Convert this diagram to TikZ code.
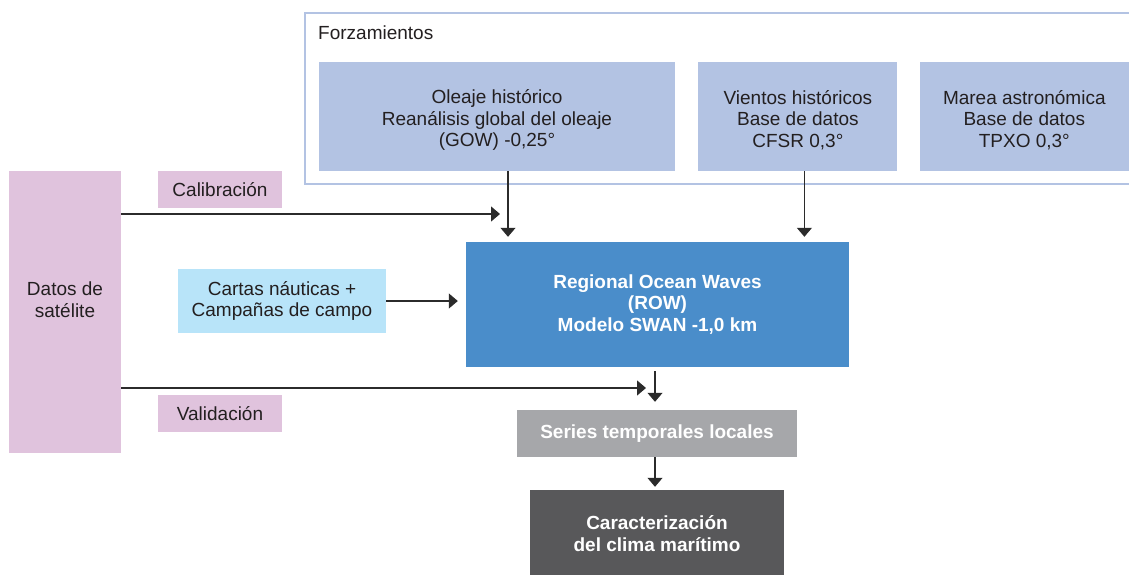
\documentclass[tikz,border=0pt]{standalone}
\usepackage{fontspec}
\setmainfont{Liberation Sans}
\usetikzlibrary{arrows.meta,positioning,calc}

\definecolor{textdark}{HTML}{231F20}
\definecolor{arrowgray}{HTML}{2B2B2B}
\definecolor{forzblue}{HTML}{B3C3E3}
\definecolor{satpink}{HTML}{E0C3DD}
\definecolor{cartasblue}{HTML}{B8E4F9}
\definecolor{rowblue}{HTML}{4A8DCA}
\definecolor{seriesgray}{HTML}{A6A7AA}
\definecolor{caractgray}{HTML}{58585A}

\newcommand{\topgap}{\rule{0pt}{21pt}}

\begin{document}
\begin{tikzpicture}[
    x=1pt, y=-1pt,
    %---- global look ----
    font=\fontsize{19}{21.5}\selectfont,
    >={Triangle[length=9pt,width=15pt]},
    block/.style = {rectangle, inner sep=0pt, align=center, text=textdark},
    forcing/.style = {block, fill=forzblue, minimum height=109pt},
    satbox/.style = {block, fill=satpink},
    whitebox/.style = {block, text=white, font=\fontsize{19}{21.5}\selectfont\bfseries},
    arrow/.style = {->, line width=1.2pt, draw=arrowgray},
]
\useasboundingbox (0,0) rectangle (1129,575);

%---- forcing frame (open to the right) ----
\draw[forzblue, line width=2.2pt] (1140,13) -- (305,13) -- (305,184) -- (1140,184);
\node (forz_label) [block, anchor=west] at (318,33) {Forzamientos};

%---- forcing blocks ----
\node (oleaje)  [forcing, minimum width=356pt] at (497,116.5)
      {\topgap Oleaje histórico\\Reanálisis global del oleaje\\(GOW) -0,25°};
\node (vientos) [forcing, minimum width=199pt, right=23pt of oleaje]
      {\topgap Vientos históricos\\Base de datos\\CFSR 0,3°};
\node (marea)   [forcing, minimum width=209pt, right=22pt of vientos]
      {\topgap Marea astronómica\\Base de datos\\TPXO 0,3°};

%---- satellite data ----
\node (datos) [satbox, minimum width=112pt, minimum height=282pt] at (65,312)
      {Datos de\\satélite\\[3pt]~};
\node (calib) [satbox, minimum width=124pt, minimum height=37pt] at (220,189.5) {Calibración};
\node (valid) [satbox, minimum width=124pt, minimum height=37pt] at (220,413.5) {Validación};

\node (cartas) [block, fill=cartasblue, minimum width=208pt, minimum height=64pt] at (282,301)
      {Cartas náuticas +\\Campañas de campo};

%---- model chain ----
\node (row) [whitebox, fill=rowblue, minimum width=383pt, minimum height=125pt] at (657.5,304.5)
      {Regional Ocean Waves\\(ROW)\\Modelo SWAN -1,0 km};
\node (series) [whitebox, fill=seriesgray, minimum width=280pt, minimum height=47pt] at (657,433.5)
      {Series temporales locales};
\node (caract) [whitebox, fill=caractgray, minimum width=254pt, minimum height=87pt] at (657,533.5)
      {Caracterización\\del clima marítimo};

%---- arrows ----
\coordinate (calib_end) at (500,214);
\coordinate (valid_end) at (646,388);
\draw[arrow] (datos.east |- calib_end) -- (calib_end);
\draw[arrow] (datos.east |- valid_end) -- (valid_end);
\draw[arrow, shorten >=8pt] (cartas.east) -- (cartas.east -| row.west);
\draw[arrow, shorten >=5pt] ([xshift=11pt]oleaje.south) -- ([xshift=11pt]oleaje.south |- row.north);
\draw[arrow, shorten >=5pt] ([xshift=6.5pt]vientos.south) -- ([xshift=6.5pt]vientos.south |- row.north);
\draw[arrow, shorten <=4pt, shorten >=8pt] ([xshift=-2.5pt]row.south) -- ([xshift=-2.5pt]row.south |- series.north);
\draw[arrow, shorten >=3pt] ([xshift=-2pt]series.south) -- ([xshift=-2pt]series.south |- caract.north);
\end{tikzpicture}
\end{document}
